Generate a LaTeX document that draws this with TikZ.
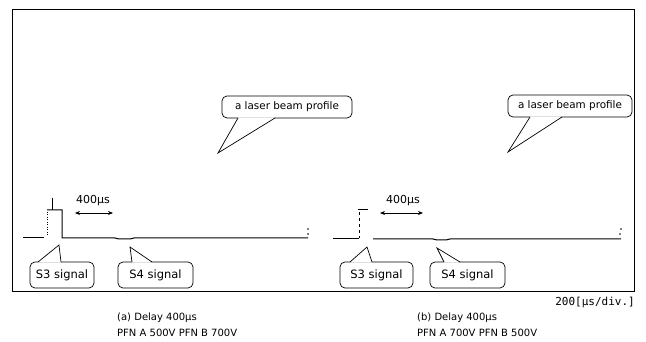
\documentclass[tikz,border=0pt]{standalone}
\usepackage{fontspec}
\setmainfont{DejaVu Sans}
\newfontfamily\monof{DejaVu Sans Mono}
\usetikzlibrary{arrows.meta}
\begin{document}
\begin{tikzpicture}[x=1pt,y=-1pt,
  frame/.style={draw=black,line width=0.9pt},
  sig/.style={draw=black,line width=1pt},
  thinsig/.style={draw=black,line width=0.5pt},
  cbox/.style={draw=black,line width=0.7pt,fill=white,rounded corners=5pt,inner sep=0pt,
    font=\fontsize{11.5}{13}\selectfont},
  ptr/.style={draw=black,line width=0.7pt},
  ptrfill/.style={fill=white},
  lbl/.style={inner sep=0pt,font=\fontsize{11}{13}\selectfont},
  captext/.style={inner sep=0pt,anchor=west,font=\fontsize{10}{12}\selectfont},
  span/.style={draw=black,line width=0.8pt,{Stealth[length=5pt,width=4pt]}-{Stealth[length=5pt,width=4pt]}}
]
\useasboundingbox (0,0) rectangle (646,342);
\draw[frame] (12,9) rectangle (634,291);

% ---- left panel signals
\draw[sig] (23,238) -- (44,238);
\draw[sig] (47,210) -- (62,210) -- (62,238) -- (115,238) -- (119,239) -- (130,239) -- (134,238) -- (308,238);
\draw[thinsig] (52,198) -- (52,210);
\draw[thinsig,dotted] (47,212) -- (47,236);
\fill (308,229) circle (0.8pt);
\fill (308,234) circle (0.8pt);

% ---- right panel signals
\draw[sig] (333,239) -- (359,239);
\draw[thinsig,dashed] (359,212) -- (359,238);
\draw[sig] (358,210) -- (368,210);
\draw[sig] (373,239) -- (433,239) -- (437,240) -- (446,240) -- (450,239) -- (621,239);
\fill (621,229) circle (0.8pt);
\fill (620,234) circle (0.8pt);

% ---- 400us spans
\node[lbl] (t1) at (93,201) {400µs};
\coordinate (s1a) at (75,213);
\coordinate (s1b) at (113,213);
\draw[span] (s1a) -- (s1b);
\node[lbl] (t2) at (403,201) {400µs};
\coordinate (s2a) at (380,213);
\coordinate (s2b) at (423,213);
\draw[span] (s2a) -- (s2b);

% ---- callouts: laser beam profile
\node[cbox,minimum width=130pt,minimum height=22pt,font=\fontsize{10.4}{12}\selectfont] (L1) at (287,107) {a laser beam profile};
\coordinate (L1a) at (238,118);
\coordinate (L1t) at (218,153);
\coordinate (L1b) at (275,118);
\fill[ptrfill] (238,117.4) -- (L1t) -- (275,117.4) -- cycle;
\draw[ptr] (L1a) -- (L1t) -- (L1b);

\node[cbox,minimum width=124pt,minimum height=22pt,font=\fontsize{10.4}{12}\selectfont] (L2) at (570,106) {a laser beam profile};
\coordinate (L2a) at (530,117);
\coordinate (L2t) at (508,152);
\coordinate (L2b) at (562,117);
\fill[ptrfill] (530,116.4) -- (L2t) -- (562,116.4) -- cycle;
\draw[ptr] (L2a) -- (L2t) -- (L2b);

% ---- callouts: S3 / S4 signals
\node[cbox,minimum width=64pt,minimum height=26pt] (A3) at (62,275) {S3 signal};
\coordinate (A3a) at (38,262);
\coordinate (A3t) at (59,245);
\coordinate (A3b) at (61,262);
\fill[ptrfill] (38,262.6) -- (A3t) -- (61,262.6) -- cycle;
\draw[ptr] (A3a) -- (A3t) -- (A3b);

\node[cbox,minimum width=75pt,minimum height=26pt] (A4) at (155.5,275) {S4 signal};
\coordinate (A4a) at (132,262);
\coordinate (A4t) at (130,247);
\coordinate (A4b) at (152,262);
\fill[ptrfill] (132,262.6) -- (A4t) -- (152,262.6) -- cycle;
\draw[ptr] (A4a) -- (A4t) -- (A4b);

\node[cbox,minimum width=73pt,minimum height=26pt] (B3) at (376.5,275) {S3 signal};
\coordinate (B3a) at (350,262);
\coordinate (B3t) at (367,247);
\coordinate (B3b) at (372,262);
\fill[ptrfill] (350,262.6) -- (B3t) -- (372,262.6) -- cycle;
\draw[ptr] (B3a) -- (B3t) -- (B3b);

\node[cbox,minimum width=75pt,minimum height=26pt] (B4) at (467.5,275) {S4 signal};
\coordinate (B4a) at (444,262);
\coordinate (B4t) at (437,248);
\coordinate (B4b) at (460,262);
\fill[ptrfill] (444,262.6) -- (B4t) -- (460,262.6) -- cycle;
\draw[ptr] (B4a) -- (B4t) -- (B4b);

% ---- scale and captions
\node[inner sep=0pt,anchor=east,font=\monof\fontsize{11}{13}\selectfont] (sc) at (635,302) {200[µs/div.]};
\node[captext] (ca1) at (117,318) {(a) Delay 400µs};
\node[captext] (ca2) at (117,333) {PFN A 500V PFN B 700V};
\node[captext] (cb1) at (417,318) {(b) Delay 400µs};
\node[captext] (cb2) at (417,333) {PFN A 700V PFN B 500V};
\end{tikzpicture}
\end{document}
